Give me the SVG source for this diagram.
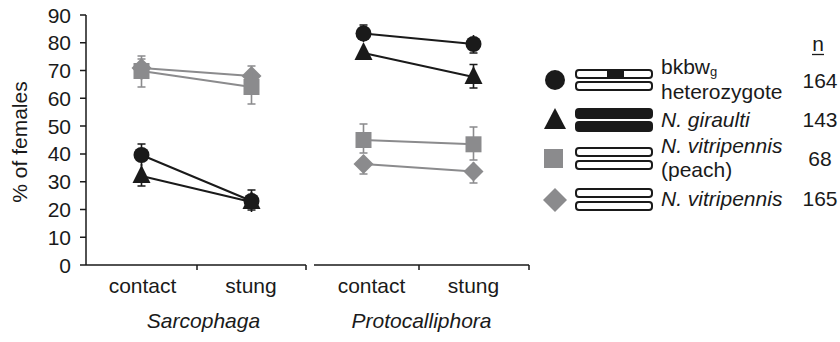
<svg xmlns="http://www.w3.org/2000/svg" xmlns:xlink="http://www.w3.org/1999/xlink" width="840" height="342" viewBox="0 0 840 342">
<style>
text{font-family:"Liberation Sans",Arial,sans-serif;font-size:21px;fill:#1a1a1a}
.it{font-style:italic}
.ax{stroke:#1a1a1a;stroke-width:1.5;fill:none}
.bk{fill:#1a1a1a}
.gr{fill:#8b8b8d}
.lb{stroke:#1a1a1a;stroke-width:2;fill:none}
.lg{stroke:#8b8b8d;stroke-width:2;fill:none}
.eb{stroke:#1a1a1a;stroke-width:1.6;fill:none}
.eg{stroke:#8b8b8d;stroke-width:1.6;fill:none}
.chr{fill:#fff;stroke:#1a1a1a;stroke-width:2}
.chrb{fill:#1a1a1a;stroke:#1a1a1a;stroke-width:2}
</style>
<defs>
<circle id="mc" r="8"/>
<polygon id="mt" points="0,-11 9,7 -9,7"/>
<rect id="ms" x="-8" y="-8" width="16" height="16"/>
<polygon id="md" points="0,-10 10,0 0,10 -10,0"/>
</defs>

<g id="axes">
<path class="ax" d="M86,15V265M80,15H86M80,42.8H86M80,70.6H86M80,98.3H86M80,126.1H86M80,153.9H86M80,181.7H86M80,209.4H86M80,237.2H86M80,265H86"/>
<path class="ax" d="M86,265H306M197,265V270M306,265V270M314,265H529M419,265V270M529,265V270"/>
<g text-anchor="end">
<text x="71" y="22.5">90</text><text x="71" y="50.3">80</text><text x="71" y="78">70</text><text x="71" y="105.8">60</text><text x="71" y="133.6">50</text><text x="71" y="161.4">40</text><text x="71" y="189.2">30</text><text x="71" y="217">20</text><text x="71" y="244.7">10</text><text x="71" y="272.5">0</text>
</g>
<text transform="translate(27,142) rotate(-90)" text-anchor="middle">% of females</text>
<g text-anchor="middle">
<text x="142.5" y="293">contact</text><text x="251" y="293">stung</text>
<text x="371.5" y="293">contact</text><text x="473.5" y="293">stung</text>
<text class="it" x="203.5" y="328">Sarcophaga</text>
<text class="it" x="421.5" y="328">Protocalliphora</text>
</g>
</g>

<g id="connectors">
<path class="lg" d="M141.5,68L251.5,76M141.5,71L251.5,87"/>
<path class="lb" d="M141.5,155L251.5,201M141.5,176L251.5,202"/>
<path class="lb" d="M363.5,33.5L473.5,44M363.5,53L473.5,77"/>
<path class="lg" d="M363.5,140L473.5,144.3M363.5,164L473.5,171.5"/>
</g>

<g id="series-vitripennis">
<path class="eg" d="M141.5,56V80M137.5,56H145.5M251.5,66V86M247.5,66H255.5M363.5,155V174M359.5,174H367.5M473.5,162V183M469.5,183H477.5"/>
<use href="#md" class="gr" x="141.5" y="68"/>
<use href="#md" class="gr" x="251.5" y="76"/>
<use href="#md" class="gr" x="363.5" y="164"/>
<use href="#md" class="gr" x="473.5" y="171.5"/>
</g>
<g id="series-peach">
<path class="eg" d="M141.5,59V87M137.5,59H145.5M137.5,87H145.5M251.5,72V104M247.5,104H255.5M363.5,124V153M359.5,124H367.5M359.5,153H367.5M473.5,127V160M469.5,127H477.5M469.5,160H477.5"/>
<use href="#ms" class="gr" x="141.5" y="71"/>
<use href="#ms" class="gr" x="251.5" y="87"/>
<use href="#ms" class="gr" x="363.5" y="140"/>
<use href="#ms" class="gr" x="473.5" y="144.3"/>
</g>
<g id="series-giraulti">
<path class="eb" d="M141.5,164V186M137.5,186H145.5M251.5,192V210M247.5,210H255.5M363.5,47V59M473.5,64.5V88M469.5,64.5H477.5M469.5,88H477.5"/>
<use href="#mt" class="bk" x="141.5" y="176"/>
<use href="#mt" class="bk" x="251.5" y="202"/>
<use href="#mt" class="bk" x="363.5" y="53"/>
<use href="#mt" class="bk" x="473.5" y="77"/>
</g>
<g id="series-bkbw">
<path class="eb" d="M141.5,144V166M137.5,144H145.5M251.5,190V212M247.5,190H255.5M363.5,25V42M359.5,25H367.5M473.5,35V53M469.5,53H477.5"/>
<use href="#mc" class="bk" x="141.5" y="155"/>
<use href="#mc" class="bk" x="251.5" y="201"/>
<use href="#mc" class="bk" x="363.5" y="33.5"/>
<use href="#mc" class="bk" x="473.5" y="44"/>
</g>

<g id="legend">
<g id="legend-n">
<text x="818" y="51" text-anchor="middle">n</text>
<path d="M812,54.5H824" stroke="#1a1a1a" stroke-width="1.3"/>
</g>
<g id="legend-bkbw">
<circle class="bk" cx="555" cy="80" r="10"/>
<rect class="chr" x="576" y="70" width="76" height="8" rx="3"/>
<rect class="bk" x="607" y="70" width="17" height="8"/>
<rect class="chr" x="576" y="82" width="76" height="8" rx="3"/>
<text x="661" y="74">bkbw<tspan font-size="13" dy="2">g</tspan></text>
<text x="661" y="99">heterozygote</text>
<text x="820" y="88" text-anchor="middle">164</text>
</g>
<g id="legend-giraulti">
<polygon class="bk" points="555,108 566,129 544,129"/>
<rect class="chrb" x="576" y="109" width="76" height="9" rx="3"/>
<rect class="chrb" x="576" y="122" width="76" height="9" rx="3"/>
<text class="it" x="661" y="127">N. giraulti</text>
<text x="820" y="127" text-anchor="middle">143</text>
</g>
<g id="legend-peach">
<rect class="gr" x="544" y="149" width="19" height="19"/>
<rect class="chr" x="576" y="148" width="76" height="8" rx="3"/>
<rect class="chr" x="576" y="161" width="76" height="8" rx="3"/>
<text class="it" x="661" y="153">N. vitripennis</text>
<text x="661" y="177">(peach)</text>
<text x="820" y="166" text-anchor="middle">68</text>
</g>
<g id="legend-vitripennis">
<polygon class="gr" points="555,188 567,200 555,212 543,200"/>
<rect class="chr" x="576" y="189" width="76" height="8" rx="3"/>
<rect class="chr" x="576" y="202" width="76" height="8" rx="3"/>
<text class="it" x="661" y="206">N. vitripennis</text>
<text x="820" y="206" text-anchor="middle">165</text>
</g>
</g>
</svg>
